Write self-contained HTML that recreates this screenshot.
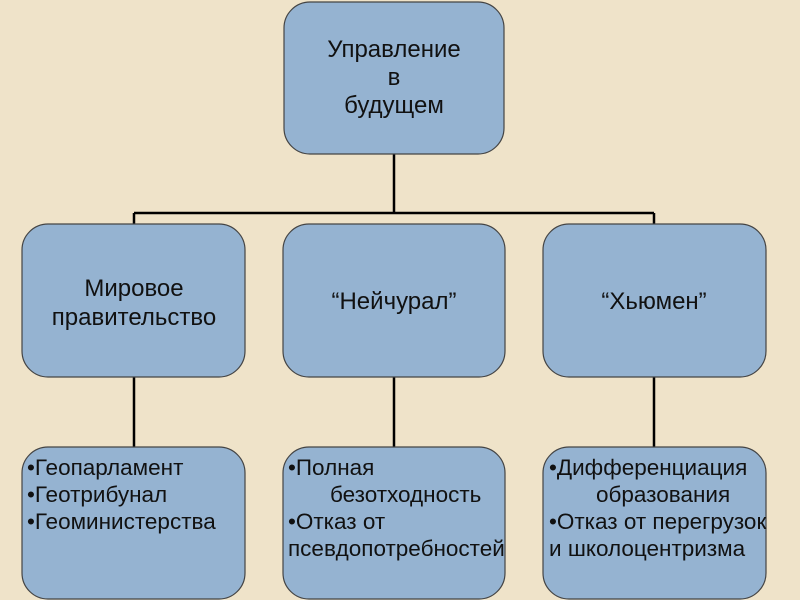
<!DOCTYPE html>
<html><head><meta charset="utf-8"><style>
html,body{margin:0;padding:0;background:#efe3c9;}
svg{display:block;}
text{font-family:"Liberation Sans",sans-serif;fill:#111;}
</style></head><body>
<svg width="800" height="600" viewBox="0 0 800 600">
<rect width="800" height="600" fill="#efe3c9"/>
<g stroke="#000" stroke-width="2.5" fill="none">
<line x1="394" y1="154" x2="394" y2="213"/>
<line x1="134" y1="213" x2="654" y2="213"/>
<line x1="134" y1="213" x2="134" y2="224"/>
<line x1="654" y1="213" x2="654" y2="224"/>
<line x1="134" y1="377" x2="134" y2="447"/>
<line x1="394" y1="377" x2="394" y2="447"/>
<line x1="654" y1="377" x2="654" y2="447"/>
</g>
<g fill="#95b3d1" stroke="#444" stroke-width="1.2">
<rect x="284" y="2" width="220" height="152" rx="26"/>
<rect x="22" y="224" width="223" height="153" rx="26"/>
<rect x="283" y="224" width="222" height="153" rx="26"/>
<rect x="543" y="224" width="223" height="153" rx="26"/>
<rect x="22" y="447" width="223" height="152" rx="26"/>
<rect x="283" y="447" width="222" height="152" rx="26"/>
<rect x="543" y="447" width="223" height="152" rx="26"/>
</g>
<g font-size="24" text-anchor="middle">
<text x="394" y="57">Управление</text>
<text x="394" y="85">в</text>
<text x="394" y="113">будущем</text>
<text x="134" y="296">Мировое</text>
<text x="134" y="325">правительство</text>
<text x="394" y="309">“Нейчурал”</text>
<text x="654" y="309">“Хьюмен”</text>
</g>
<g font-size="22.5">
<text x="27" y="475">•Геопарламент</text>
<text x="27" y="502">•Геотрибунал</text>
<text x="27" y="529">•Геоминистерства</text>
<text x="288" y="475">•Полная</text>
<text x="330" y="502">безотходность</text>
<text x="288" y="529">•Отказ от</text>
<text x="288" y="556">псевдопотребностей</text>
<text x="549" y="475">•Дифференциация</text>
<text x="596" y="502">образования</text>
<text x="549" y="529">•Отказ от перегрузок</text>
<text x="549" y="556">и школоцентризма</text>
</g>
</svg>
</body></html>
